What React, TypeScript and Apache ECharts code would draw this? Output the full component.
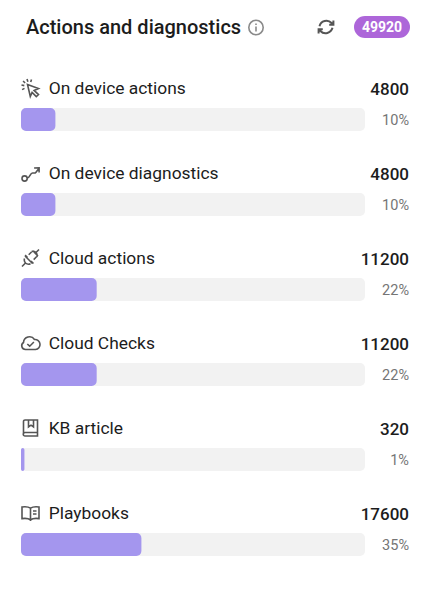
import React, { useEffect, useRef } from "react";
import * as echarts from "echarts";

const categories = ["On device actions", "On device diagnostics", "Cloud actions", "Cloud Checks", "KB article", "Playbooks"];
const counts = [4800, 4800, 11200, 11200, 320, 17600];
const percents = [10, 10, 22, 22, 1, 35];
const fullScale = [100, 100, 100, 100, 100, 100];
const totalLabel = "49920";
const titleText = "Actions and diagnostics";

const FONT = "Roboto";
const ICON = "#555555";

const iconPaths: Record<string, string> = {
  iconCursor: "M7 6.5L18 10.5L13.6 12.4L18 16.6L15.8 18.6L11.6 14.4L9.8 18.4ZM6.5 1L7.4 3.8M11 1.4L10.2 4M1 7L3.8 7.6M1.6 11.6L4 10.4M2.6 3L4.6 5",
  iconRoute: "M1.5 15.5a2.6 2.6 0 1 0 5.2 0a2.6 2.6 0 1 0 -5.2 0M6.7 15C9.5 15 9.5 10 12 10C14 10 14.5 10.5 15.5 9.2L18 6M13.6 5L18.6 4.8L18.6 9.6",
  iconPlug: "M1.5 18.5L5 15M18.5 1.5L15.5 4.5M12 2.5L17.5 8M4.5 8L12 15.5M4 10.5A4.6 4.6 0 0 0 5 15A4.6 4.6 0 0 0 10 15.8M7 9.5L4.6 7.1M10.5 13L13 15.5M11 3.6A4.6 4.6 0 0 1 15.5 4.5A4.6 4.6 0 0 1 16.4 9M11 4L8.2 6.8M16 8.8L13.2 11.6",
  iconCloud: "M5 16.5A3.8 3.8 0 0 1 3 9.5A6 6 0 0 1 14 6.5A5 5 0 0 1 15 16.5ZM6.8 11L9.2 13.2L13.4 9",
  iconBook: "M3 16V3.5A1.5 1.5 0 0 1 4.5 2H17V14.5H4.5A1.5 1.5 0 0 0 4.5 18H17V15M8 2V9L10.5 7.2L13 9V2",
  iconOpenBook: "M10 5.2C8 3.8 4.5 3.6 1.5 4V15.6C4.5 15.2 8 15.4 10 16.8C12 15.4 15.5 15.2 18.5 15.6V4C15.5 3.6 12 3.8 10 5.2ZM10 5.2V18M12.5 8H16M12.5 11H16",
  iconInfo: "M0.8 8a7.2 7.2 0 1 0 14.4 0a7.2 7.2 0 1 0 -14.4 0M8 7V12M8 4V5.5",
  iconSync: "M2.5 8.2A7.2 7.2 0 0 1 14.6 5L16 6.8M16.4 2.6V6.8H12.2M15.5 9.8A7.2 7.2 0 0 1 3.4 13L2 11.2M1.6 15.4V11.2H5.8",
};
Object.keys(iconPaths).forEach((name) => {
  echarts.graphic.registerShape(name, echarts.graphic.extendPath(iconPaths[name], {}));
});

const rowIcons = ["iconCursor", "iconRoute", "iconPlug", "iconCloud", "iconBook", "iconOpenBook"];

export default function App() {
  const ref = useRef<HTMLDivElement>(null);
  useEffect(() => {
    const chart = echarts.init(ref.current!, undefined, { renderer: "svg" });
    chart.setOption({
      animation: false,
      grid: { left: 21, top: 77, width: 344, height: 510 },
      xAxis: { type: "value", min: 0, max: 100, show: false },
      yAxis: { type: "category", inverse: true, data: categories, show: false },
      graphic: [
        { type: "text", x: 26, y: 16.5, style: { text: titleText, font: `500 20px ${FONT}`, fill: "#1c1c1c" } },
        { type: "iconInfo", x: 248, y: 19.5, style: { fill: "none", stroke: "#8a8a8a", lineWidth: 1.6 } },
        { type: "iconSync", x: 317, y: 18, style: { fill: "none", stroke: ICON, lineWidth: 2 } },
        { type: "rect", shape: { x: 354, y: 16, width: 56, height: 22, r: 11 }, style: { fill: "#ad66d9" } },
        { type: "text", x: 382, y: 27, style: { text: totalLabel, font: `700 14px ${FONT}`, fill: "#ffffff", align: "center", verticalAlign: "middle" } },
        ...rowIcons.map((type, i) => ({
          type,
          x: 20.5,
          y: 78 + 85 * i,
          style: { fill: "none", stroke: ICON, lineWidth: 1.6 },
        })),
      ],
      series: [
        {
          type: "bar",
          data: fullScale,
          barWidth: 23,
          barGap: "-100%",
          silent: true,
          itemStyle: { color: "#f2f2f2", borderRadius: 5 },
          label: {
            show: true,
            position: [388, -19],
            formatter: (p: any) => String(counts[p.dataIndex]),
            fontFamily: FONT,
            fontSize: 17,
            fontWeight: 500,
            color: "#1c1c1c",
            align: "right",
            verticalAlign: "middle",
          },
          z: 1,
        },
        {
          type: "bar",
          data: fullScale,
          barWidth: 23,
          barGap: "-100%",
          silent: true,
          itemStyle: { color: "transparent" },
          label: {
            show: true,
            position: [388, 12],
            formatter: (p: any) => `${percents[p.dataIndex]}%`,
            fontFamily: FONT,
            fontSize: 14.5,
            color: "#757575",
            align: "right",
            verticalAlign: "middle",
          },
          z: 2,
        },
        {
          type: "bar",
          data: percents,
          barWidth: 23,
          barGap: "-100%",
          silent: true,
          itemStyle: { color: "#a496ee", borderRadius: 5 },
          label: {
            show: true,
            position: [27.7, -20],
            formatter: (p: any) => categories[p.dataIndex],
            fontFamily: FONT,
            fontSize: 17.4,
            color: "#1c1c1c",
            align: "left",
            verticalAlign: "middle",
          },
          z: 3,
        },
      ],
    });
    return () => chart.dispose();
  }, []);
  return <div ref={ref} style={{ position: "absolute", left: 0, top: 0, width: 425, height: 591, background: "#fff" }} />;
}
